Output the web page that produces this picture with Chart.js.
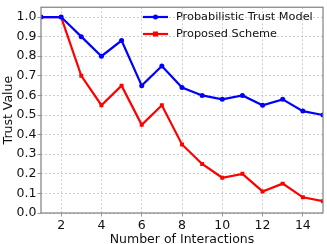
<!DOCTYPE html>
<html lang="en">
<head>
    <meta charset="UTF-8">
    <title>Trust Value vs Number of Interactions</title>
    <script src="https://cdn.jsdelivr.net/npm/chart.js"></script>
    <style>
        body { margin: 0; background: #fff; }
        #wrap { width: 327px; height: 244px; }
    </style>
</head>
<body>
    <div id="wrap">
        <canvas id="trustChart" width="327" height="244"></canvas>
    </div>
    <script>
        const interactions = [1, 2, 3, 4, 5, 6, 7, 8, 9, 10, 11, 12, 13, 14, 15];
        const probabilisticTrust = [1.0, 1.0, 0.90, 0.80, 0.88, 0.65, 0.75, 0.64, 0.60, 0.58, 0.60, 0.55, 0.58, 0.52, 0.50];
        const proposedScheme = [1.0, 1.0, 0.70, 0.55, 0.65, 0.45, 0.55, 0.35, 0.25, 0.18, 0.20, 0.11, 0.15, 0.08, 0.06];
        const xTicks = [2, 4, 6, 8, 10, 12, 14];
        const yTicks = [0.0, 0.1, 0.2, 0.3, 0.4, 0.5, 0.6, 0.7, 0.8, 0.9, 1.0];

        const font = { family: 'DejaVu Sans', size: 12.5, lineHeight: 1 };
        const gridColor = 'rgba(176,176,176,0.8)';
        const frameColor = '#808080';

        // matplotlib-style frame round the plot, plus legend inside the plot area
        const framePlugin = {
            id: 'frameLegend',
            afterDraw(chart) {
                const { ctx, chartArea: a } = chart;
                ctx.save();
                ctx.strokeStyle = frameColor;
                ctx.lineWidth = 1.2;
                ctx.strokeRect(a.left, a.top, a.right - a.left, a.bottom - a.top);

                let y = 17;
                const x0 = 143;
                chart.data.datasets.forEach(ds => {
                    ctx.strokeStyle = ds.borderColor;
                    ctx.lineWidth = 2.2;
                    ctx.beginPath();
                    ctx.moveTo(x0, y);
                    ctx.lineTo(x0 + 25, y);
                    ctx.stroke();
                    ctx.fillStyle = ds.borderColor;
                    if (ds.pointStyle === 'rect') {
                        ctx.fillRect(x0 + 12.5 - 2.5, y - 2.5, 5, 5);
                    } else {
                        ctx.beginPath();
                        ctx.arc(x0 + 12.5, y, 2.5, 0, Math.PI * 2);
                        ctx.fill();
                    }
                    ctx.fillStyle = '#111';
                    ctx.font = '11.3px "DejaVu Sans"';
                    ctx.textBaseline = 'middle';
                    ctx.fillText(ds.label, x0 + 33, y);
                    y += 17;
                });
                ctx.restore();
            }
        };

        const ctx = document.getElementById('trustChart').getContext('2d');
        new Chart(ctx, {
            type: 'line',
            data: {
                datasets: [{
                    label: 'Probabilistic Trust Model',
                    data: interactions.map((x, i) => ({ x: x, y: probabilisticTrust[i] })),
                    borderColor: '#0000ff',
                    backgroundColor: '#0000ff',
                    borderWidth: 2.2,
                    pointStyle: 'circle',
                    pointRadius: 2.5,
                    pointBorderWidth: 0,
                    tension: 0
                }, {
                    label: 'Proposed Scheme',
                    data: interactions.map((x, i) => ({ x: x, y: proposedScheme[i] })),
                    borderColor: '#ff0000',
                    backgroundColor: '#ff0000',
                    borderWidth: 2.2,
                    pointStyle: 'rect',
                    pointRadius: 2.8,
                    pointBorderWidth: 0,
                    tension: 0
                }]
            },
            options: {
                responsive: false,
                animation: false,
                layout: { padding: { top: 2, right: 2, left: 0, bottom: 0 } },
                plugins: {
                    legend: { display: false },
                    tooltip: { enabled: false }
                },
                scales: {
                    x: {
                        type: 'linear',
                        min: 1,
                        max: 15,
                        afterBuildTicks: axis => { axis.ticks = xTicks.map(v => ({ value: v })); },
                        afterFit: axis => { axis.height = 31; },
                        ticks: { font: font, color: '#111', padding: 3, maxRotation: 0 },
                        grid: { color: gridColor, lineWidth: 0.8, tickLength: 3.5, tickColor: frameColor, tickBorderDash: [] },
                        border: { display: false, dash: [2, 2] },
                        title: { display: true, text: 'Number of Interactions', font: font, color: '#111', padding: { top: 0, bottom: -1.5 } }
                    },
                    y: {
                        min: 0,
                        max: 1.05,
                        afterBuildTicks: axis => { axis.ticks = yTicks.map(v => ({ value: v })); },
                        afterFit: axis => { axis.width = 41; },
                        ticks: { font: font, color: '#111', padding: 1, callback: v => v.toFixed(1) },
                        grid: { color: gridColor, lineWidth: 0.8, tickLength: 3.5, tickColor: frameColor, tickBorderDash: [] },
                        border: { display: false, dash: [2, 2] },
                        title: { display: true, text: 'Trust Value', font: font, color: '#111', padding: { top: 2, bottom: 1 } }
                    }
                }
            },
            plugins: [framePlugin]
        });
    </script>
</body>
</html>
